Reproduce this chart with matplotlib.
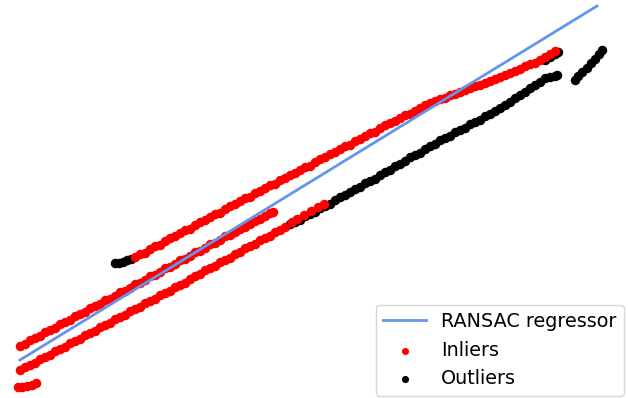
import matplotlib
matplotlib.use("Agg")
import matplotlib.pyplot as plt

# fitted RANSAC line (two end points)
line_x = [20, 597]
line_y = [40, 394]

# inliers
tiny_x = [18, 22, 27, 32, 36]
tiny_y = [13, 13, 14, 15, 17]

mid_x = [20, 25, 30, 35, 40, 45, 50, 55, 60, 65, 70, 75, 80, 85, 90, 95, 100,
         105, 110, 115, 120, 125, 130, 135, 140, 145, 150, 155, 160, 165, 170,
         175, 180, 185, 190, 195, 200, 205, 210, 215, 220, 225, 230, 235, 240,
         245, 250, 255, 260, 265, 270, 273]
mid_y = [54, 56, 60, 62, 64, 68, 70, 72, 76, 78, 80, 84, 86, 88, 92, 94, 96,
         100, 101, 104, 108, 109, 112, 116, 117, 120, 124, 125, 128, 132, 133,
         136, 140, 141, 144, 148, 149, 152, 156, 157, 160, 164, 165, 168, 171,
         173, 176, 179, 181, 184, 187, 188]

low_x = [20, 25, 30, 35, 40, 45, 50, 55, 60, 65, 70, 75, 80, 85, 90, 95, 100,
         105, 110, 115, 120, 125, 130, 135, 140, 145, 150, 155, 160, 165, 170,
         175, 180, 185, 190, 195, 200, 205, 210, 215, 220, 225, 230, 235, 240,
         245, 250, 255, 260, 265, 270, 275, 280, 285,
         292, 297, 304, 311, 318, 324]
low_y = [30, 33, 35, 37, 41, 43, 45, 49, 51, 53, 57, 59, 61, 65, 67, 69, 73,
         75, 77, 81, 83, 85, 89, 91, 93, 97, 99, 101, 105, 107, 109, 113, 115,
         117, 121, 124, 126, 130, 132, 134, 138, 140, 142, 146, 148, 152, 154,
         156, 160, 162, 164, 168, 170, 173,
         178, 181, 185, 189, 193, 196]

top_x = [135, 140, 145, 150, 155, 160, 165, 170, 175, 180, 185, 190, 195, 200,
         205, 210, 215, 220, 225, 230, 235, 240, 245, 250, 255, 260, 265, 270,
         275, 280, 285, 290, 295, 300, 305, 310, 315, 320, 325, 330, 335, 340,
         345, 350, 355, 360, 365, 370, 375, 380, 385, 390, 395, 400, 405, 410,
         415, 420, 425, 430, 435, 440, 445, 450, 455, 460, 465, 470, 475, 480,
         485, 490, 495, 500, 505, 510, 515, 520, 525, 530, 535, 540, 545, 550,
         555]
top_y = [143, 146, 147, 151, 154, 155, 159, 162, 164, 167, 170, 171, 175, 178,
         180, 183, 186, 187, 191, 194, 196, 199, 202, 203, 207, 209, 212, 215,
         216, 220, 222, 225, 227, 230, 233, 234, 238, 241, 243, 246, 248, 251,
         254, 255, 259, 261, 264, 267, 268, 272, 275, 277, 279, 282, 285, 286,
         289, 292, 295, 297, 299, 301, 302, 305, 306, 308, 310, 312, 314, 315,
         317, 319, 321, 323, 325, 327, 329, 331, 334, 336, 337, 340, 343, 346,
         349]

# outliers
out_x = [115, 119, 123, 127, 131,
         290, 295, 300, 305, 310, 315, 320, 325, 330, 335, 340, 345, 350, 355,
         360, 365, 370, 375, 380, 385, 390, 395, 400, 405, 410, 415, 420, 425,
         430, 435, 440, 445, 450, 455, 460, 465, 470, 475, 480, 485, 490, 495,
         500, 505, 510, 515, 520, 525, 530, 535, 540, 545, 550, 555, 557,
         545, 550, 555, 558,
         575, 578, 582, 587, 591, 595, 599, 602]
out_y = [137, 137, 138, 140, 141,
         176, 178, 180, 184, 186, 188, 192, 194, 196, 200, 203, 205, 208, 211,
         213, 217, 219, 221, 225, 228, 230, 234, 236, 239, 243, 245, 247, 251,
         254, 256, 260, 262, 264, 268, 270, 272, 276, 278, 280, 284, 286, 289,
         292, 295, 298, 302, 305, 308, 312, 315, 318, 322, 323, 324, 325,
         340, 343, 346, 348,
         320, 324, 328, 332, 337, 341, 346, 350]

in_x = tiny_x + mid_x + low_x + top_x
in_y = tiny_y + mid_y + low_y + top_y

fig = plt.figure(figsize=(6.28, 3.98), dpi=100)
ax = fig.add_axes([0, 0, 1, 1])

ax.plot(line_x, line_y, color='cornflowerblue', linewidth=2, zorder=4,
        label='RANSAC regressor')
ax.scatter(in_x, in_y, color='red', s=34, zorder=3, label='Inliers')
ax.scatter(out_x, out_y, color='black', s=34, zorder=2, label='Outliers')

ax.set_xlim(0, 628)
ax.set_ylim(2, 400)
ax.axis('off')

ax.legend(loc='lower right', bbox_to_anchor=(624 / 628, 2 / 398),
          bbox_transform=fig.transFigure, borderaxespad=0, fontsize=13.8,
          handlelength=2.2, markerscale=0.7)

fig.savefig('out.png', dpi=100)
